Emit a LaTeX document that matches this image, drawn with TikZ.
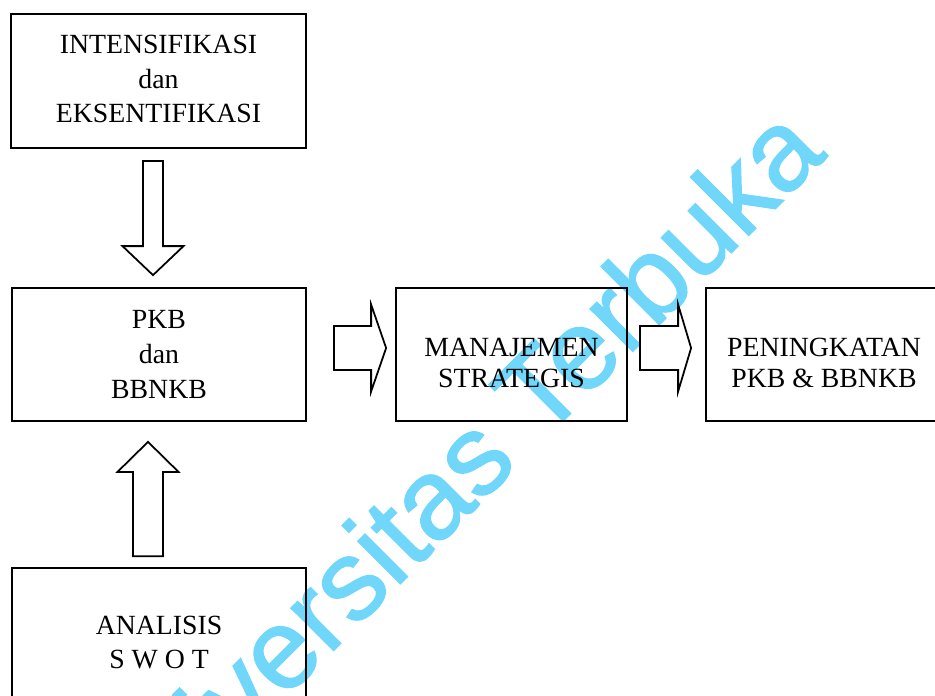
\documentclass[tikz,border=0pt]{standalone}
\usepackage{fontspec}
\setmainfont{Liberation Serif}
\newfontfamily\wmfont[FakeBold=1.3]{Liberation Sans}
\usetikzlibrary{calc}

\definecolor{wmblue}{RGB}{112,214,250}

\tikzset{
  box/.style={draw, align=center, inner sep=0pt,
    font=\fontsize{23.7}{29.5}\selectfont},
  boxtext/.style={align=center, inner sep=0pt,
    font=\fontsize{23.7}{27}\selectfont},
  wmark/.style={text=wmblue, inner sep=0pt, font=\wmfont\fontsize{97}{97}\selectfont},
  % shaft half width / head half width / head length
  fat arrow/.style args={#1/#2/#3}{
    to path={(\tikztostart) coordinate (fa-s)
      (\tikztotarget) coordinate (fa-t)
      ($(fa-t)!#3!(fa-s)$) coordinate (fa-h)
      ($(fa-s)!#1!90:(fa-t)$) -- ($(fa-h)!#1!-90:(fa-s)$)
      -- ($(fa-h)!#2!-90:(fa-s)$) -- (fa-t)
      -- ($(fa-h)!#2!90:(fa-s)$) -- ($(fa-h)!#1!90:(fa-s)$)
      -- ($(fa-s)!#1!-90:(fa-t)$) -- cycle}},
}

\begin{document}
\begin{tikzpicture}[x=0.03cm, y=-0.03cm, line width=1.5pt, line join=miter]
  \useasboundingbox (0,0) rectangle (935,695);

  % watermark
  \node[wmark, rotate=45, anchor=base west] (wm) at (122,862) {Universitas Terbuka};

  % boxes
  \node[box, minimum width=8.85cm, minimum height=4.02cm] (intens) at (158.5,81) {};
  \node[box, minimum width=8.82cm, minimum height=3.99cm] (pkb) at (159,354.5)
    {PKB\\dan\\BBNKB};
  \node[box, minimum width=6.93cm, minimum height=3.99cm] (manaj) at (511.5,354.5) {};
  \node[box, minimum width=7.08cm, minimum height=3.99cm] (pening) at (824,354.5) {};
  \node[box, minimum width=8.82cm, minimum height=4.47cm] (swot) at (159,642.5)
    {ANALISIS\\S W O T};
  \node[box, draw=none] (intens-t) at ($(intens.center)+(0,-2)$)
    {INTENSIFIKASI\\dan\\EKSENTIFIKASI};
  \node[boxtext] (manaj-t) at ($(manaj.center)+(0,8.5)$) {MANAJEMEN\\STRATEGIS};
  \node[boxtext] (pening-t) at ($(pening.center)+(0,8.5)$) {PENINGKATAN\\PKB \& BBNKB};

  % block arrows
  \draw ($(intens.south)+(-5.5,12)$) to[fat arrow=0.3cm/0.915cm/0.87cm] ($(pkb.north)+(-6,-12)$);
  \draw ($(swot.north)+(-11,-11)$) to[fat arrow=0.45cm/0.915cm/0.9cm] ($(pkb.south)+(-11,20)$);
  \draw ($(pkb.east)+(27,-6.5)$) to[fat arrow=0.66cm/1.305cm/0.45cm] ($(manaj.west)+(-9,-6.5)$);
  \draw ($(manaj.east)+(12,-6.5)$) to[fat arrow=0.66cm/1.305cm/0.39cm] ($(pening.west)+(-14,-6.5)$);
\end{tikzpicture}
\end{document}
